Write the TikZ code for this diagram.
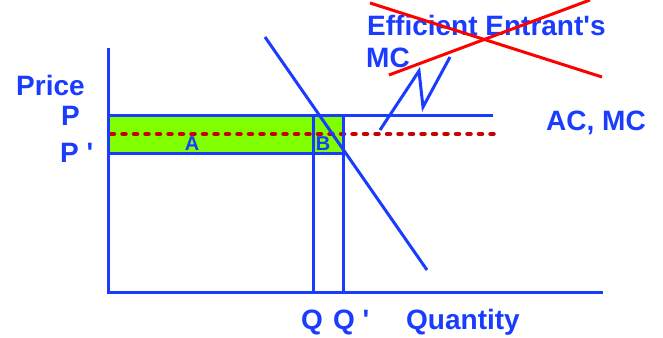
\documentclass[tikz,border=0pt]{standalone}
\usepackage{fontspec}
\setmainfont{Liberation Sans}
\usetikzlibrary{positioning}
\definecolor{lblue}{RGB}{25,60,255}
\definecolor{lgreen}{RGB}{128,255,0}
\definecolor{lred}{RGB}{255,0,0}
\definecolor{dred}{RGB}{200,0,0}
\newcommand{\ap}{\textquotesingle}
\begin{document}
\begin{tikzpicture}[x=1pt,y=-1pt,
  ln/.style={lblue,line width=3pt},
  lbl/.style={lblue,font=\fontsize{28}{32}\selectfont\bfseries,inner sep=0pt,anchor=base west},
  sm/.style={lblue,font=\fontsize{20}{24}\selectfont\bfseries,inner sep=0pt,anchor=base}]
\useasboundingbox (0,0) rectangle (663,337);
% axes and areas
\coordinate (O) at (108,292);
\coordinate (ytop) at (108,48);
\coordinate (xend) at (603,292);
\coordinate (pl) at (108,115);
\coordinate (pr) at (493,115);
\coordinate (ql) at (108,153);
\coordinate (qtop) at (313,115);
\coordinate (qbot) at (313,292);
\coordinate (qqtop) at (343,115);
\coordinate (qqbot) at (343,292);
\coordinate (qqp) at (343,153);
\fill[lgreen] (pl) rectangle (qqp);
\draw[dred,line width=4.5pt,line cap=round,dash pattern=on 3pt off 8.5pt] (111,134)--(497,134);
\draw[ln] (ytop)--(O)--(xend);
\draw[ln] (pl)--(pr);
\draw[ln] (ql)--(qqp);
\draw[ln] (qtop)--(qbot);
\draw[ln] (qqtop)--(qqbot);
% demand
\draw[ln] (265,37)--(427,270);
% entrant's MC
\draw[ln,line join=miter] (380,130)--(419,71)--(423,107)--(450,57);
% labels
\node[lbl] (ent) at (367,36) {Efficient Entrant\ap s};
\node[lbl] (entmc) at (366,67) {MC};
\node[lbl] (acmc) at (546,130) {AC, MC};
\node[lbl] (price) at (16,95) {Price};
\node[lbl] (p) at (61,125) {P};
\node[lbl] (pp) at (60,162) {P \ap};
\node[lbl] (q) at (301,329) {Q};
\node[lbl] (qq) at (333,329) {Q \ap};
\node[lbl] (quant) at (406,329) {Quantity};
\node[sm] (a) at (192,150) {A};
\node[sm] (b) at (323,150) {B};
% cross out
\draw[lred,line width=3pt] (370,3)--(602,77);
\draw[lred,line width=3pt] (389,75)--(590,0);
\end{tikzpicture}
\end{document}
